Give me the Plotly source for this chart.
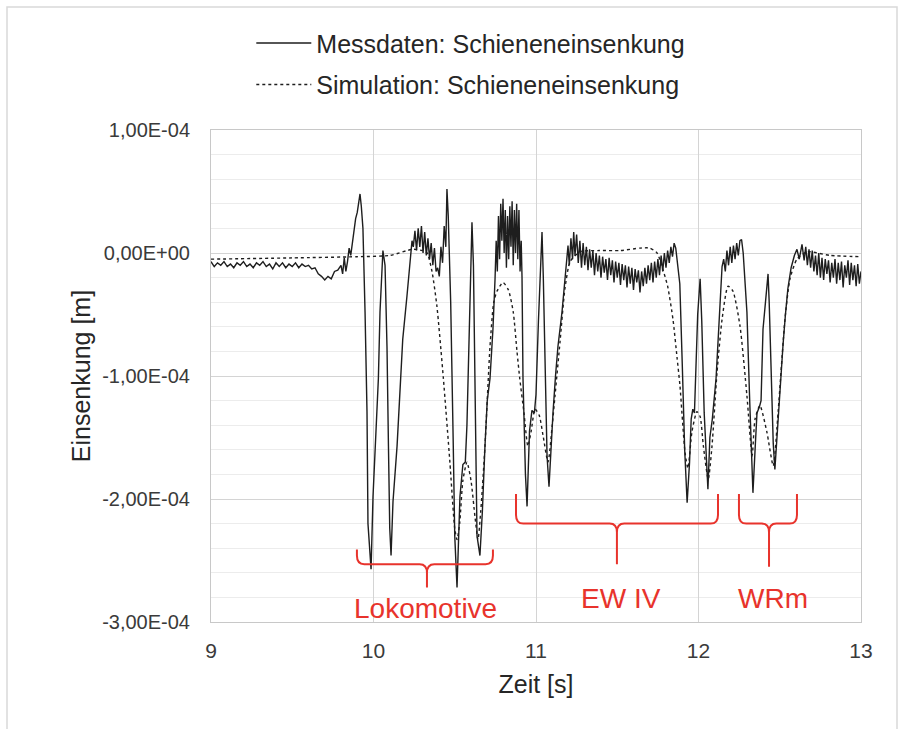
import plotly.graph_objects as go

# ---------------- data (deflection in units of 1e-4 m) ----------------
t_mess = [
    9.00, 9.02, 9.04, 9.06, 9.08, 9.10, 9.12, 9.14, 9.16, 9.18,
    9.20, 9.22, 9.24, 9.26, 9.28, 9.30, 9.32, 9.34, 9.36, 9.38,
    9.40, 9.42, 9.44, 9.46, 9.48, 9.50, 9.52, 9.54, 9.56, 9.58,
    9.60, 9.62, 9.64, 9.66, 9.68, 9.70, 9.72, 9.74, 9.76, 9.78,
    9.80, 9.81, 9.82, 9.83, 9.84, 9.85, 9.86, 9.87, 9.88, 9.89,
    9.90, 9.91, 9.917, 9.925, 9.935, 9.948, 9.96, 9.966, 9.985, 9.997,
    10.02, 10.03, 10.04, 10.058, 10.071, 10.083, 10.092, 10.10, 10.108, 10.12,
    10.145, 10.163, 10.18, 10.206, 10.225, 10.237, 10.245, 10.255, 10.265, 10.275,
    10.285, 10.295, 10.305, 10.315, 10.325, 10.335, 10.345, 10.355, 10.365, 10.375,
    10.385, 10.395, 10.405, 10.415, 10.425, 10.435, 10.445, 10.452, 10.46, 10.465,
    10.475, 10.49, 10.50, 10.514, 10.532, 10.55, 10.565, 10.575, 10.59, 10.606,
    10.615, 10.625, 10.637, 10.655, 10.67, 10.686, 10.70, 10.717, 10.735, 10.748,
    10.755, 10.762, 10.769, 10.776, 10.783, 10.79, 10.797, 10.804, 10.811, 10.818,
    10.825, 10.832, 10.839, 10.846, 10.853, 10.86, 10.867, 10.874, 10.881, 10.888,
    10.895, 10.902, 10.909, 10.914, 10.92, 10.935, 10.945, 10.96, 10.975, 10.99,
    11.00, 11.015, 11.03, 11.037, 11.045, 11.055, 11.068, 11.08, 11.09, 11.105,
    11.12, 11.135, 11.16, 11.178, 11.19, 11.197, 11.205, 11.215, 11.225, 11.232,
    11.24, 11.25, 11.26, 11.27, 11.28, 11.29, 11.30, 11.31, 11.32, 11.33,
    11.34, 11.35, 11.36, 11.37, 11.38, 11.39, 11.40, 11.41, 11.42, 11.43,
    11.44, 11.45, 11.46, 11.47, 11.48, 11.49, 11.50, 11.51, 11.52, 11.53,
    11.54, 11.55, 11.56, 11.57, 11.58, 11.59, 11.60, 11.61, 11.62, 11.63,
    11.64, 11.65, 11.66, 11.67, 11.68, 11.69, 11.70, 11.71, 11.72, 11.73,
    11.74, 11.75, 11.76, 11.77, 11.78, 11.79, 11.80, 11.81, 11.82, 11.83,
    11.84, 11.85, 11.86, 11.87, 11.885, 11.90, 11.915, 11.93, 11.945, 11.955,
    11.965, 11.975, 11.985, 11.995, 12.01, 12.02, 12.035, 12.05, 12.058, 12.07,
    12.085, 12.108, 12.125, 12.145, 12.155, 12.165, 12.175, 12.185, 12.195, 12.205,
    12.215, 12.225, 12.235, 12.245, 12.255, 12.265, 12.275, 12.298, 12.315, 12.335,
    12.35, 12.36, 12.375, 12.385, 12.397, 12.41, 12.42, 12.428, 12.435, 12.45,
    12.46, 12.47, 12.48, 12.49, 12.502, 12.52, 12.535, 12.55, 12.57, 12.59,
    12.606, 12.62, 12.637, 12.65, 12.66, 12.67, 12.68, 12.69, 12.70, 12.71,
    12.72, 12.73, 12.74, 12.75, 12.76, 12.77, 12.78, 12.79, 12.80, 12.81,
    12.82, 12.83, 12.84, 12.85, 12.86, 12.87, 12.88, 12.89, 12.90, 12.91,
    12.92, 12.93, 12.94, 12.95, 12.96, 12.97, 12.98, 12.99, 13.00,
]
y_mess = [
    -0.07, -0.11, -0.08, -0.10, -0.07, -0.11, -0.09, -0.12, -0.08, -0.10,
    -0.07, -0.11, -0.09, -0.12, -0.08, -0.10, -0.07, -0.11, -0.09, -0.13,
    -0.08, -0.11, -0.08, -0.12, -0.09, -0.11, -0.08, -0.12, -0.09, -0.11,
    -0.10, -0.13, -0.12, -0.17, -0.19, -0.22, -0.19, -0.21, -0.15, -0.14,
    -0.10, -0.17, -0.04, -0.15, -0.07, 0.04, -0.02, 0.08, 0.20, 0.28,
    0.33, 0.42, 0.48, 0.38, 0.20, -0.48, -1.29, -2.20, -2.57, -1.98,
    -1.29, -1.02, -0.48, 0.02, -0.10, -0.76, -1.57, -2.24, -2.46, -2.02,
    -1.57, -1.16, -0.70, -0.35, -0.07, 0.10, 0.05, 0.18, 0.02, 0.20,
    0.05, 0.22, 0.00, 0.17, -0.02, 0.12, -0.05, 0.08, -0.10, 0.04,
    -0.15, -0.12, -0.19, 0.05, -0.08, 0.22, 0.05, 0.52, 0.30, 0.10,
    -0.40, -1.50, -2.30, -2.72, -1.98, -1.72, -1.70, -1.40, -0.60, 0.25,
    -0.10, -1.20, -2.30, -2.46, -2.10, -1.57, -1.20, -1.02, -0.62, -0.21,
    0.10, -0.15, 0.30, -0.05, 0.40, 0.10, 0.44, 0.00, 0.35, -0.12,
    0.30, -0.05, 0.38, 0.05, 0.42, -0.10, 0.35, 0.00, 0.40, -0.05,
    0.35, -0.15, 0.10, -0.20, -1.02, -1.80, -2.06, -1.45, -1.28, -1.30,
    -1.15, -0.55, 0.05, 0.17, -0.20, -0.95, -1.65, -1.90, -1.60, -1.29,
    -1.00, -0.76, -0.48, -0.21, -0.05, 0.06, -0.10, 0.12, -0.05, 0.17,
    -0.02, 0.15, -0.08, 0.10, -0.12, 0.08, -0.10, 0.05, -0.14, 0.03,
    -0.12, 0.02, -0.18, 0.00, -0.15, -0.02, -0.20, -0.03, -0.16, -0.05,
    -0.22, -0.04, -0.18, -0.06, -0.24, -0.07, -0.20, -0.08, -0.26, -0.09,
    -0.22, -0.10, -0.28, -0.11, -0.25, -0.12, -0.30, -0.13, -0.24, -0.14,
    -0.32, -0.15, -0.27, -0.12, -0.25, -0.10, -0.22, -0.08, -0.24, -0.07,
    -0.20, -0.05, -0.18, -0.02, -0.15, 0.00, -0.12, 0.02, -0.08, 0.05,
    -0.03, 0.08, 0.04, -0.10, -0.25, -0.90, -1.60, -2.03, -1.70, -1.35,
    -1.27, -1.30, -0.95, -0.50, -0.21, -0.55, -1.30, -1.80, -1.92, -1.50,
    -1.35, -1.02, -0.55, -0.11, -0.05, -0.15, 0.02, -0.10, 0.05, -0.08,
    0.06, -0.05, 0.08, -0.02, 0.10, 0.11, 0.00, -0.48, -1.20, -1.95,
    -1.55, -1.30, -1.25, -1.20, -0.62, -0.40, -0.25, -0.17, -0.40, -1.20,
    -1.55, -1.76, -1.55, -1.30, -1.12, -0.75, -0.50, -0.29, -0.12, -0.02,
    0.03, -0.05, 0.07, -0.06, 0.05, -0.10, 0.03, -0.12, 0.02, -0.15,
    -0.02, -0.18, 0.00, -0.20, -0.04, -0.22, -0.05, -0.17, -0.06, -0.24,
    -0.08, -0.20, -0.05, -0.25, -0.08, -0.22, -0.07, -0.28, -0.10, -0.20,
    -0.06, -0.26, -0.08, -0.22, -0.10, -0.27, -0.09, -0.25, -0.15,
]

t_sim = [
    9.00, 9.50, 9.90, 10.10, 10.24, 10.30, 10.33, 10.36, 10.39, 10.43,
    10.47, 10.50, 10.514, 10.53, 10.55, 10.575, 10.60, 10.625, 10.643, 10.66,
    10.686, 10.717, 10.74, 10.76, 10.797, 10.83, 10.86, 10.883, 10.90, 10.926,
    10.95, 10.97, 10.994, 11.02, 11.043, 11.074, 11.10, 11.117, 11.148, 11.178,
    11.21, 11.27, 11.39, 11.52, 11.64, 11.70, 11.745, 11.78, 11.81, 11.843,
    11.868, 11.886, 11.917, 11.935, 11.96, 11.99, 12.01, 12.03, 12.06, 12.083,
    12.114, 12.145, 12.182, 12.212, 12.255, 12.298, 12.33, 12.348, 12.378, 12.42,
    12.46, 12.49, 12.532, 12.563, 12.606, 12.67, 12.81, 13.00,
]
y_sim = [
    -0.05, -0.04, -0.03, -0.02, 0.03, 0.02, 0.00, -0.15, -0.43, -1.02,
    -1.70, -2.24, -2.33, -2.20, -1.85, -1.70, -1.85, -2.15, -2.33, -2.10,
    -1.57, -0.76, -0.40, -0.31, -0.24, -0.30, -0.48, -0.80, -1.02, -1.30,
    -1.57, -1.45, -1.27, -1.32, -1.48, -1.70, -1.40, -1.16, -0.72, -0.29,
    -0.07, 0.01, 0.02, 0.02, 0.04, 0.04, 0.00, -0.13, -0.27, -0.54,
    -0.85, -1.08, -1.62, -1.75, -1.45, -1.29, -1.33, -1.57, -1.84, -1.57,
    -0.97, -0.54, -0.27, -0.31, -0.59, -1.16, -1.65, -1.35, -1.24, -1.45,
    -1.73, -1.29, -0.54, -0.21, -0.05, 0.01, -0.02, -0.03,
]
UNIT = 1e-4  # values above are given in 1e-4 m

x_tick_vals = [9, 10, 11, 12, 13]
y_tick_vals = [-3e-4, -2e-4, -1e-4, 0.0, 1e-4]
y_tick_text = ["-3,00E-04", "-2,00E-04", "-1,00E-04", "0,00E+00", "1,00E-04"]

# red brace annotations (time in s, level in 1e-4 m)
brace_labels = ["Lokomotive", "EW IV", "WRm"]
brace_x0 = [9.898, 10.877, 12.249]
brace_xc = [10.329, 11.498, 12.434]
brace_x1 = [10.735, 12.120, 12.606]
brace_ytop = [-2.41, -1.96, -1.96]
brace_ymid = [-2.53, -2.20, -2.20]
brace_ytip = [-2.72, -2.53, -2.55]
label_x = [10.32, 11.52, 12.46]
label_y = [-2.89, -2.81, -2.81]

RED = "#E8332C"
FONT = "Liberation Sans, Arial, sans-serif"
TXT = "#3a3a3a"

fig = go.Figure()
fig.add_trace(go.Scatter(
    x=t_mess, y=[v * UNIT for v in y_mess], mode="lines",
    name="Messdaten: Schieneneinsenkung", legendgroup="a",
    line=dict(color="#1e1e1e", width=1.4),
))
fig.add_trace(go.Scatter(
    x=t_sim, y=[v * UNIT for v in y_sim], mode="lines",
    name="Simulation: Schieneneinsenkung", legendgroup="b",
    line=dict(color="#1e1e1e", width=1.4, dash="dot", shape="spline", smoothing=0.6),
))

shapes = []
dx = 0.045
ry = 0.07
for x0, xc, x1, yt, ym, yp in zip(brace_x0, brace_xc, brace_x1, brace_ytop, brace_ymid, brace_ytip):
    f = lambda v: f"{v * UNIT:.9f}"
    p = (f"M{x0:.4f},{f(yt)} L{x0:.4f},{f(ym + ry)} Q{x0:.4f},{f(ym)} {x0 + dx:.4f},{f(ym)} "
         f"L{xc - dx:.4f},{f(ym)} Q{xc:.4f},{f(ym)} {xc:.4f},{f(ym - ry)} L{xc:.4f},{f(yp)} "
         f"M{xc:.4f},{f(ym - ry)} Q{xc:.4f},{f(ym)} {xc + dx:.4f},{f(ym)} "
         f"L{x1 - dx:.4f},{f(ym)} Q{x1:.4f},{f(ym)} {x1:.4f},{f(ym + ry)} L{x1:.4f},{f(yt)}")
    shapes.append(dict(type="path", path=p, xref="x", yref="y",
                       line=dict(color=RED, width=2), layer="above"))

# outer frame of the picture
shapes.append(dict(type="rect", xref="paper", yref="paper",
                   x0=(7 - 211) / 650, x1=(897 - 211) / 650,
                   y0=(622 - 740) / 492, y1=(622 - 7) / 492,
                   line=dict(color="#d9d9d9", width=1.5), layer="below"))

annotations = []
for lab, lx, ly in zip(brace_labels, label_x, label_y):
    annotations.append(dict(text=lab, x=lx, y=ly * UNIT, xref="x", yref="y",
                            showarrow=False, font=dict(family=FONT, size=28, color=RED)))

fig.update_layout(
    width=905, height=729,
    margin=dict(l=211, r=44, t=130, b=107),
    paper_bgcolor="white", plot_bgcolor="white",
    font=dict(family=FONT, color=TXT),
    showlegend=True,
    legend=dict(x=0.062, y=1.223, xanchor="left", yanchor="top",
                font=dict(family=FONT, size=25, color="#262626"),
                bgcolor="rgba(0,0,0,0)", tracegroupgap=6, itemwidth=55),
    shapes=shapes,
    annotations=annotations,
)
fig.update_xaxes(
    range=[9, 13], tickvals=x_tick_vals, ticktext=[str(v) for v in x_tick_vals],
    showgrid=True, gridcolor="#d4d4d4", gridwidth=1,
    showline=True, linecolor="#c8c8c8", linewidth=1, mirror=True,
    ticks="", ticklabelstandoff=10, zeroline=False,
    tickfont=dict(family=FONT, size=21, color=TXT),
    title=dict(text="Zeit [s]", font=dict(family=FONT, size=25, color="#262626"), standoff=14),
)
fig.update_yaxes(
    range=[-3e-4, 1e-4], tickvals=y_tick_vals, ticktext=y_tick_text,
    showgrid=True, gridcolor="#d4d4d4", gridwidth=1,
    minor=dict(dtick=0.2e-4, tick0=0, showgrid=True, gridcolor="#ececec", gridwidth=1),
    showline=True, linecolor="#c8c8c8", linewidth=1, mirror=True,
    ticks="", ticklabelstandoff=16, zeroline=False,
    tickfont=dict(family=FONT, size=20, color=TXT),
    title=dict(text="Einsenkung [m]", font=dict(family=FONT, size=25, color="#262626"), standoff=4),
)

fig.write_html("out.html")
